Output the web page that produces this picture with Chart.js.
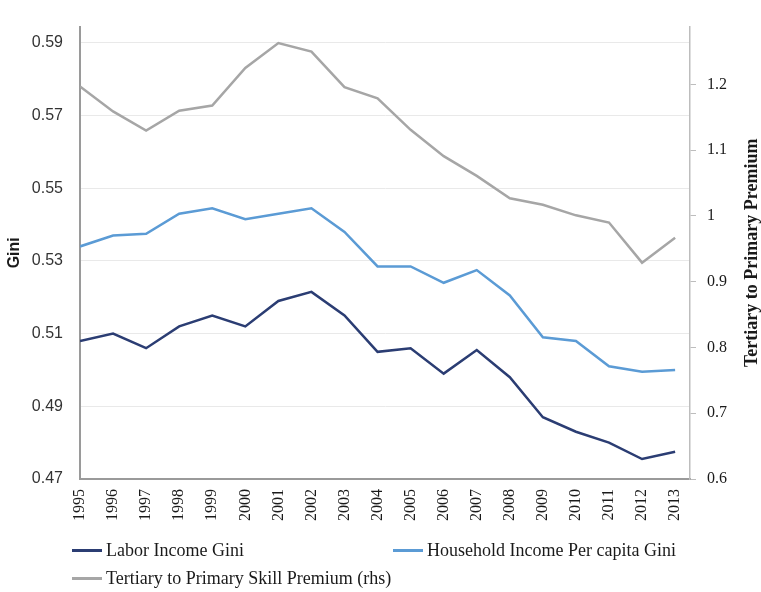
<!DOCTYPE html>
<html>
<head>
<meta charset="utf-8">
<script src="https://cdn.jsdelivr.net/npm/chart.js@4.4.1/dist/chart.umd.min.js"></script>
<style>
  html, body { margin: 0; padding: 0; background: #fff; }
  #wrap { position: relative; width: 761px; height: 592px; }
  #legend {
    position: absolute; left: 72px; top: 539px;
    display: grid; grid-template-columns: 321px 330px; row-gap: 6px;
    font-family: "Liberation Serif", serif; font-size: 18px; color: #1a1a1a;
  }
  .item { display: flex; align-items: center; height: 22px; white-space: nowrap; }
  .swatch { width: 30px; height: 3px; margin-right: 4px; }
</style>
</head>
<body>
<div id="wrap">
  <canvas id="chart" width="761" height="592"></canvas>
  <div id="legend"></div>
</div>
<script>
// Values
const years = [1995, 1996, 1997, 1998, 1999, 2000, 2001, 2002, 2003, 2004,
               2005, 2006, 2007, 2008, 2009, 2010, 2011, 2012, 2013];
const laborGini = [0.508, 0.510, 0.506, 0.512, 0.515, 0.512, 0.519, 0.5215, 0.515, 0.505,
                   0.506, 0.499, 0.5055, 0.498, 0.487, 0.483, 0.480, 0.4755, 0.4775];
const householdGini = [0.534, 0.537, 0.5375, 0.543, 0.5445, 0.5415, 0.543, 0.5445, 0.538, 0.5285,
                       0.5285, 0.524, 0.5275, 0.5205, 0.509, 0.508, 0.501, 0.4995, 0.500];
const skillPremium = [1.197, 1.159, 1.130, 1.160, 1.168, 1.225, 1.263, 1.250, 1.196, 1.179,
                      1.131, 1.091, 1.061, 1.027, 1.017, 1.001, 0.990, 0.929, 0.967];

// Tick labels
const giniTicks = [0.47, 0.49, 0.51, 0.53, 0.55, 0.57, 0.59];
const premiumTicks = [0.6, 0.7, 0.8, 0.9, 1.0, 1.1, 1.2];

const seriesNames = ["Labor Income Gini", "Household Income Per capita Gini",
                     "Tertiary to Primary Skill Premium (rhs)"];
const seriesColors = ["#2b3d73", "#5b9bd5", "#a6a6a6"];

const toPoints = (vals) => vals.map((v, i) => ({ x: years[i], y: v }));

// Right axis title reads bottom-to-top, so draw it ourselves
const rightTitle = {
  id: "rightTitle",
  afterDraw(chart) {
    const { ctx, chartArea } = chart;
    ctx.save();
    ctx.translate(chart.width - 9, (chartArea.top + chartArea.bottom) / 2);
    ctx.rotate(-Math.PI / 2);
    ctx.font = 'bold 18px "Liberation Serif"';
    ctx.fillStyle = "#1a1a1a";
    ctx.textAlign = "center";
    ctx.textBaseline = "middle";
    ctx.fillText("Tertiary to Primary Premium", 0, 0);
    ctx.restore();
  },
};

const chart = new Chart(document.getElementById("chart"), {
  type: "line",
  plugins: [rightTitle],
  data: {
    datasets: [
      { label: seriesNames[0], data: toPoints(laborGini), borderColor: seriesColors[0], yAxisID: "y" },
      { label: seriesNames[1], data: toPoints(householdGini), borderColor: seriesColors[1], yAxisID: "y" },
      { label: seriesNames[2], data: toPoints(skillPremium), borderColor: seriesColors[2], yAxisID: "y1" },
    ],
  },
  options: {
    responsive: false,
    animation: false,
    layout: { padding: { top: 10, bottom: 62, left: 0, right: 0 } },
    elements: {
      line: { borderWidth: 2.5, tension: 0 },
      point: { radius: 0 },
    },
    plugins: { legend: { display: false }, tooltip: { enabled: false } },
    scales: {
      x: {
        type: "linear",
        min: 1995,
        max: 2013.45,
        grid: { display: false, drawTicks: false },
        border: { display: true, color: "#9a9a9a", width: 2 },
        afterBuildTicks: (axis) => { axis.ticks = years.map((v) => ({ value: v })); },
        afterFit: (axis) => { axis.height = 51; },
        ticks: {
          autoSkip: false,
          minRotation: 90,
          maxRotation: 90,
          padding: 10,
          color: "#1a1a1a",
          font: { family: "Liberation Serif", size: 16 },
          callback: (v) => String(v),
        },
      },
      y: {
        position: "left",
        min: 0.47,
        max: 0.5945,
        grid: { color: "#e9e9e9", lineWidth: 1, drawTicks: false },
        border: { display: true, color: "#9a9a9a", width: 2 },
        afterBuildTicks: (axis) => { axis.ticks = giniTicks.map((v) => ({ value: v })); },
        afterFit: (axis) => { axis.width = 80; },
        title: {
          display: true,
          text: "Gini",
          color: "#1a1a1a",
          padding: { top: 5, bottom: 0 },
          font: { family: "Liberation Sans", size: 16, weight: "bold" },
        },
        ticks: {
          padding: 17,
          color: "#333",
          font: { family: "Liberation Sans", size: 16 },
          callback: (v) => v.toFixed(2),
        },
      },
      y1: {
        position: "right",
        min: 0.6,
        max: 1.288,
        grid: { drawOnChartArea: false, drawTicks: true, tickLength: 6, color: "#bdbdbd" },
        border: { display: true, color: "#bdbdbd", width: 1.5 },
        afterBuildTicks: (axis) => { axis.ticks = premiumTicks.map((v) => ({ value: v })); },
        afterFit: (axis) => { axis.width = 71; },
        ticks: {
          padding: 11,
          color: "#1a1a1a",
          font: { family: "Liberation Serif", size: 16 },
          callback: (v) => String(Number(v.toFixed(1))),
        },
      },
    },
  },
});

// Legend in two columns, same order as the reference
const legend = document.getElementById("legend");
chart.data.datasets.forEach((ds) => {
  const item = document.createElement("div");
  item.className = "item";
  const sw = document.createElement("span");
  sw.className = "swatch";
  sw.style.background = ds.borderColor;
  const txt = document.createElement("span");
  txt.textContent = ds.label;
  item.appendChild(sw);
  item.appendChild(txt);
  legend.appendChild(item);
});
</script>
</body>
</html>
